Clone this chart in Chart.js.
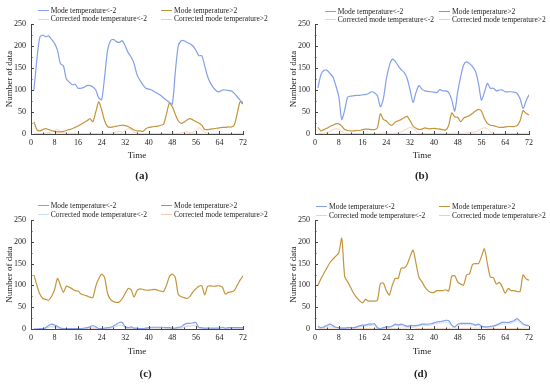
<!DOCTYPE html>
<html>
<head>
<meta charset="utf-8">
<script src="https://cdn.jsdelivr.net/npm/chart.js@4.4.1/dist/chart.umd.min.js"></script>
<style>
body{margin:0;background:#fff;}
#wrap{position:relative;width:550px;height:384px;overflow:hidden;font-family:"Liberation Serif","Times New Roman",serif;color:#222;}
.pane{position:absolute;width:275px;height:192px;}
.pane canvas{position:absolute;left:0;top:0;}
.lg{position:absolute;font-size:7.5px;white-space:nowrap;line-height:9px;}
.lg i{position:absolute;width:11px;height:1px;top:4.5px;}
.tag{position:absolute;font-size:11px;font-weight:bold;transform:translateX(-50%);}
</style>
</head>
<body>
<div id="wrap"></div>
<script>
// x values (hours)
const hours = [1,2,3,4,5,6,7,8,9,10,11,12,13,14,15,16,17,18,19,20,21,22,23,24,
  25,26,27,28,29,30,31,32,33,34,35,36,37,38,39,40,41,42,43,44,45,46,47,48,
  49,50,51,52,53,54,55,56,57,58,59,60,61,62,63,64,65,66,67,68,69,70,71,72];

const seriesNames = ['Mode temperature<-2', 'Mode temperature>2', 'Corrected mode temperature<-2', 'Corrected mode temperature>2'];
const seriesColors = ['#829fe8', '#c4943a', '#c9dcf4', '#f1cdb4'];

// (a)
const lowA = [100,170,220,225,221,223,215,206,190,160,155,125,118,112,113,104,104,106,110,110,107,100,82,78,
  130,190,212,215,210,208,212,200,185,175,160,135,122,112,104,102,100,96,92,88,82,77,72,68,
  140,200,212,212,208,205,200,190,178,178,155,130,115,105,98,96,100,100,99,98,93,85,77,71];
const highA = [28,10,7,10,12,10,8,6,5,5,6,8,10,12,15,18,22,26,30,35,28,50,73,55,
  30,17,15,16,18,19,20,19,17,13,9,7,7,6,12,15,16,17,18,20,22,45,70,62,
  45,30,24,27,32,35,32,28,25,20,10,10,11,12,13,14,15,15,16,16,20,45,73,68];
const corrLowA = [0,0,0,1,1,1,1,0,0,0,0,0,0,0,0,0,0,0,0,0,0,0,0,0,
  0,0,0,0,1,1,1,1,0,0,0,0,0,0,0,0,0,0,0,0,0,0,0,0,
  0,0,0,0,1,1,1,1,1,0,0,0,0,0,0,0,0,0,0,0,0,0,0,0];
const corrHighA = [2,1,1,1,2,3,5,8,10,6,3,2,1,1,1,1,1,1,1,1,1,1,2,2,
  1,1,2,3,5,6,4,8,12,10,4,2,1,1,1,1,1,1,1,1,1,1,2,2,
  1,1,2,4,5,3,4,8,14,10,4,2,1,1,1,1,1,1,1,1,1,1,2,2];

// (b)
const lowB = [105,135,145,145,138,130,110,85,33,55,84,86,87,88,88,89,90,92,96,94,87,62,80,125,
  155,170,165,155,146,140,126,100,72,95,110,102,98,97,96,95,94,101,98,98,94,78,52,95,
  130,157,164,160,153,142,115,77,95,115,104,104,98,100,100,96,96,96,95,92,80,58,75,89];
const highB = [15,7,10,13,17,20,23,23,18,10,8,7,7,8,8,10,11,11,10,10,14,46,33,30,
  22,20,27,30,33,37,40,30,18,13,10,11,14,12,12,13,12,11,10,9,20,48,39,38,
  28,36,39,42,47,52,56,52,35,24,20,19,17,15,15,16,17,17,17,19,30,53,47,43];
const corrLowB = [0,0,0,0,1,1,1,1,0,0,0,0,0,0,0,0,0,0,0,0,0,0,0,0,
  0,0,0,0,1,1,2,2,1,0,0,0,0,0,0,0,0,0,0,0,0,0,0,0,
  0,0,0,0,1,1,2,2,1,0,0,0,0,0,0,0,0,0,0,0,0,0,0,0];
const corrHighB = [1,1,2,3,6,10,12,11,6,2,1,1,1,1,1,1,1,1,1,1,1,2,2,2,
  1,1,2,3,5,8,12,15,13,6,2,1,1,1,1,1,1,1,1,1,1,2,2,2,
  1,1,2,3,4,5,8,12,14,12,5,2,1,1,1,1,1,1,1,1,1,1,2,2];

// (c)
const lowC = [0,0,1,1,3,8,11,9,6,2,1,1,1,1,1,1,1,2,3,5,8,5,1,1,
  2,3,4,7,11,15,15,5,3,5,2,2,1,1,2,3,4,4,4,4,4,3,3,2,
  2,4,5,10,13,13,14,15,4,3,2,2,2,2,2,2,4,2,3,3,3,3,3,3];
const highC = [124,100,80,70,68,66,75,90,116,100,84,98,96,92,88,87,80,78,76,73,72,98,115,126,
  118,82,68,63,61,62,70,82,93,90,73,88,92,91,89,89,90,91,89,87,86,100,120,126,
  118,80,74,72,70,75,85,92,98,99,78,98,99,98,99,99,96,80,84,85,88,100,112,122];
const corrLowC = [0,0,0,1,2,4,6,5,3,1,0,0,0,0,0,0,0,1,2,3,4,3,1,0,
  1,1,2,4,6,8,8,3,2,2,1,1,0,0,1,1,2,2,2,2,2,1,1,1,
  1,2,3,5,7,7,8,8,2,1,1,1,1,1,1,1,2,1,1,1,1,1,1,1];
const corrHighC = [0,0,0,1,2,4,5,4,2,1,0,0,0,0,0,0,0,0,1,1,1,1,0,0,
  0,1,2,4,6,9,8,3,1,1,0,0,0,0,0,0,0,0,0,0,0,0,0,0,
  0,1,2,4,6,7,8,7,2,1,0,0,0,0,0,0,0,0,0,0,0,0,0,0];

// (d)
const lowD = [6,3,5,8,11,8,4,3,2,2,3,3,3,5,7,9,9,11,11,12,3,1,3,5,
  5,7,11,9,11,9,6,8,8,8,9,11,11,11,12,14,16,17,18,20,19,9,5,11,
  13,13,13,13,12,9,11,7,5,5,6,7,9,12,15,15,15,17,19,24,18,12,9,8];
const highD = [100,115,128,140,152,160,167,175,208,120,108,95,82,72,65,60,68,64,64,64,66,104,105,88,
  78,100,116,116,140,140,148,166,181,150,118,108,96,88,84,84,88,88,88,90,87,121,122,108,
  103,101,124,127,148,150,150,166,184,150,119,118,103,107,97,82,93,88,88,86,86,124,115,112];
const corrLowD = [4,2,3,5,7,5,3,2,1,1,2,2,2,3,5,6,6,8,8,9,2,1,2,3,
  3,5,8,7,8,7,4,6,6,6,7,8,8,8,9,11,12,13,14,15,14,6,3,8,
  10,10,10,10,9,7,8,5,3,3,4,5,7,9,11,11,12,13,15,19,14,9,7,6];
const corrHighD = [1,1,1,1,2,2,2,2,3,2,1,1,1,1,1,1,1,1,1,1,1,2,2,1,
  1,1,1,1,2,2,2,3,3,2,1,1,1,1,1,1,1,1,1,1,1,2,2,1,
  1,1,1,1,2,2,2,3,3,2,1,1,1,1,1,1,1,1,1,1,1,2,2,1];

const serif = '"Liberation Serif","Times New Roman",serif';

const panels = [
  {tag:'(a)', x:0, y:0, l:31, r:243, t:24, b:134, yt:4.6, xb:30.6, lgX:[50.7,174], lgY:[10,18.7], tagX:141.7, tagY:176, data:[lowA, highA, corrLowA, corrHighA]},
  {tag:'(b)', x:275, y:0, l:40, r:254, t:24, b:134, yt:12.9, xb:30.6, lgX:[62.7,177], lgY:[11,19.3], tagX:146.7, tagY:176, data:[lowB, highB, corrLowB, corrHighB]},
  {tag:'(c)', x:0, y:192, l:31, r:243, t:28, b:137, yt:4.6, xb:26.6, lgX:[50.7,174], lgY:[13.3,22.3], tagX:145.7, tagY:182, data:[lowC, highC, corrLowC, corrHighC]},
  {tag:'(d)', x:275, y:192, l:40, r:254, t:28, b:137, yt:12.9, xb:26.6, lgX:[54,177], lgY:[14.3,23.3], tagX:145.7, tagY:182, data:[lowD, highD, corrLowD, corrHighD]}
];

// inward tick marks, major and minor
const innerTicks = {
  id: 'innerTicks',
  afterDraw(chart) {
    const {ctx, scales: {x, y}} = chart;
    ctx.save();
    ctx.strokeStyle = '#444';
    ctx.lineWidth = 1;
    ctx.beginPath();
    const xt = x.ticks.map(t => t.value);
    xt.forEach((v, i) => {
      const px = Math.round(x.getPixelForValue(v)) + 0.5;
      ctx.moveTo(px, y.bottom); ctx.lineTo(px, y.bottom - 3);
      if (i < xt.length - 1) {
        const mx = Math.round(x.getPixelForValue((v + xt[i + 1]) / 2)) + 0.5;
        ctx.moveTo(mx, y.bottom); ctx.lineTo(mx, y.bottom - 1.5);
      }
    });
    const yt = y.ticks.map(t => t.value);
    yt.forEach((v, i) => {
      const py = Math.round(y.getPixelForValue(v)) + 0.5;
      ctx.moveTo(x.left, py); ctx.lineTo(x.left + 3, py);
      if (i < yt.length - 1) {
        const my = Math.round(y.getPixelForValue((v + yt[i + 1]) / 2)) + 0.5;
        ctx.moveTo(x.left, my); ctx.lineTo(x.left + 1.5, my);
      }
    });
    ctx.stroke();
    ctx.restore();
  }
};

const wrap = document.getElementById('wrap');

panels.forEach(p => {
  const pane = document.createElement('div');
  pane.className = 'pane';
  pane.style.left = p.x + 'px';
  pane.style.top = p.y + 'px';
  const cv = document.createElement('canvas');
  cv.width = 275; cv.height = 192;
  pane.appendChild(cv);

  // legend, 2 x 2
  seriesNames.forEach((name, i) => {
    const d = document.createElement('div');
    d.className = 'lg';
    d.style.left = p.lgX[i % 2] + 'px';
    d.style.top = (p.lgY[Math.floor(i / 2)] - 4.5) + 'px';
    const ln = document.createElement('i');
    ln.style.left = '-13px';
    ln.style.background = seriesColors[i];
    d.appendChild(ln);
    d.appendChild(document.createTextNode(name));
    pane.appendChild(d);
  });

  const tg = document.createElement('div');
  tg.className = 'tag';
  tg.style.left = p.tagX + 'px';
  tg.style.top = (p.tagY - 7) + 'px';
  tg.textContent = p.tag;
  pane.appendChild(tg);
  wrap.appendChild(pane);

  const datasets = p.data.map((vals, i) => ({
    label: seriesNames[i],
    data: hours.map((h, k) => ({x: h, y: vals[k]})),
    borderColor: seriesColors[i],
    borderWidth: i < 2 ? 1.2 : 0.9,
    tension: 0.25,
    pointRadius: 0,
    fill: false
  }));

  new Chart(cv, {
    type: 'line',
    data: {datasets},
    options: {
      responsive: false,
      animation: false,
      layout: {padding: {left: 0, top: p.t, right: 275 - p.r, bottom: 0}},
      plugins: {legend: {display: false}, tooltip: {enabled: false}},
      scales: {
        x: {
          type: 'linear', min: 0, max: 72,
          ticks: {stepSize: 8, padding: 4, color: '#222', font: {family: serif, size: 8}},
          grid: {display: false, drawTicks: false},
          border: {display: true, color: '#444', width: 1},
          title: {display: true, text: 'Time', color: '#222', font: {family: serif, size: 9}, padding: {top: 0, bottom: p.xb}},
          afterFit: s => { s.height = 192 - p.b; }
        },
        y: {
          min: 0, max: 250,
          ticks: {stepSize: 50, padding: 5, color: '#222', font: {family: serif, size: 8}},
          grid: {display: false, drawTicks: false},
          border: {display: true, color: '#444', width: 1},
          title: {display: true, text: 'Number of data', color: '#222', font: {family: serif, size: 9}, padding: {top: p.yt, bottom: 0}},
          afterFit: s => { s.width = p.l; }
        }
      }
    },
    plugins: [innerTicks]
  });
});
</script>
</body>
</html>
